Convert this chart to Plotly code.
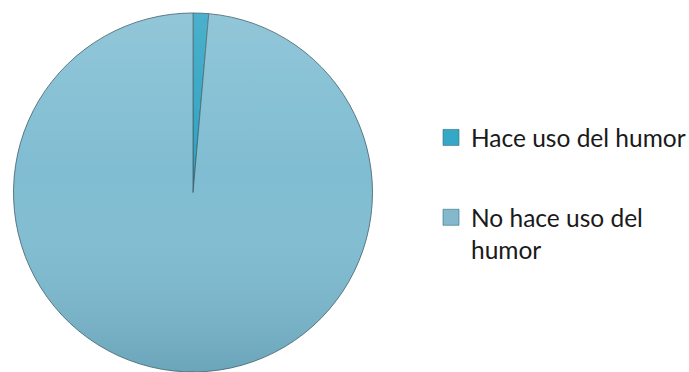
import base64
import plotly.graph_objects as go

# Survey share: use of humour
labels = ["Hace uso del humor", "No hace uso del<br>humor"]
values = [1.4, 98.6]
slice_colors = ["#2ea3c3", "#80bdd2"]
legend_colors = ["#35a8c8", "#84b9cd"]

W, H = 689, 372
PIE_X = [13.5 / W, 372.5 / W]
PIE_Y = [0, 359 / H]

fig = go.Figure()
fig.add_trace(
    go.Pie(
        labels=labels,
        values=values,
        sort=False,
        direction="clockwise",
        rotation=0,
        textinfo="none",
        hoverinfo="label+percent",
        showlegend=False,
        marker=dict(colors=slice_colors, line=dict(color="#3f5e69", width=0.8)),
        domain=dict(x=PIE_X, y=PIE_Y),
    )
)

# legend keys (square swatches) for each slice
for i, (lab, col) in enumerate(zip(labels, legend_colors)):
    fig.add_trace(
        go.Scatter(
            x=[None], y=[None], mode="markers", name=lab,
            legendgroup=f"g{i}",
            marker=dict(symbol="square", size=16, color=col,
                        line=dict(color="#2c6b7e", width=0.6)),
        )
    )

# soft top-to-bottom lighting over the disc
shade_svg = (
    '<svg xmlns="http://www.w3.org/2000/svg" viewBox="0 0 100 100">'
    '<defs><linearGradient id="g" x1="0" y1="0" x2="0" y2="1">'
    '<stop offset="0" stop-color="#ffffff" stop-opacity="0.14"/>'
    '<stop offset="0.45" stop-color="#ffffff" stop-opacity="0"/>'
    '<stop offset="1" stop-color="#00283c" stop-opacity="0.16"/>'
    '</linearGradient></defs>'
    '<circle cx="50" cy="50" r="49.9" fill="url(#g)"/></svg>'
)
shade_uri = "data:image/svg+xml;base64," + base64.b64encode(shade_svg.encode()).decode()

fig.update_layout(
    width=W,
    height=H,
    margin=dict(l=0, r=0, t=0, b=0, autoexpand=False),
    paper_bgcolor="white",
    plot_bgcolor="white",
    xaxis=dict(visible=False),
    yaxis=dict(visible=False),
    images=[dict(
        source=shade_uri, xref="paper", yref="paper",
        x=PIE_X[0], y=PIE_Y[1],
        sizex=PIE_X[1] - PIE_X[0], sizey=PIE_Y[1] - PIE_Y[0],
        xanchor="left", yanchor="top", sizing="stretch", layer="above",
    )],
    showlegend=True,
    legend=dict(
        x=431 / W,
        y=1 - 115 / H,
        xanchor="left",
        yanchor="top",
        font=dict(family="Lato", size=24.5, color="#1a1a1a"),
        valign="top",
        itemwidth=30,
        itemsizing="trace",
        traceorder="grouped",
        tracegroupgap=45,
        bgcolor="rgba(0,0,0,0)",
    ),
)

fig.write_html("out.html")
